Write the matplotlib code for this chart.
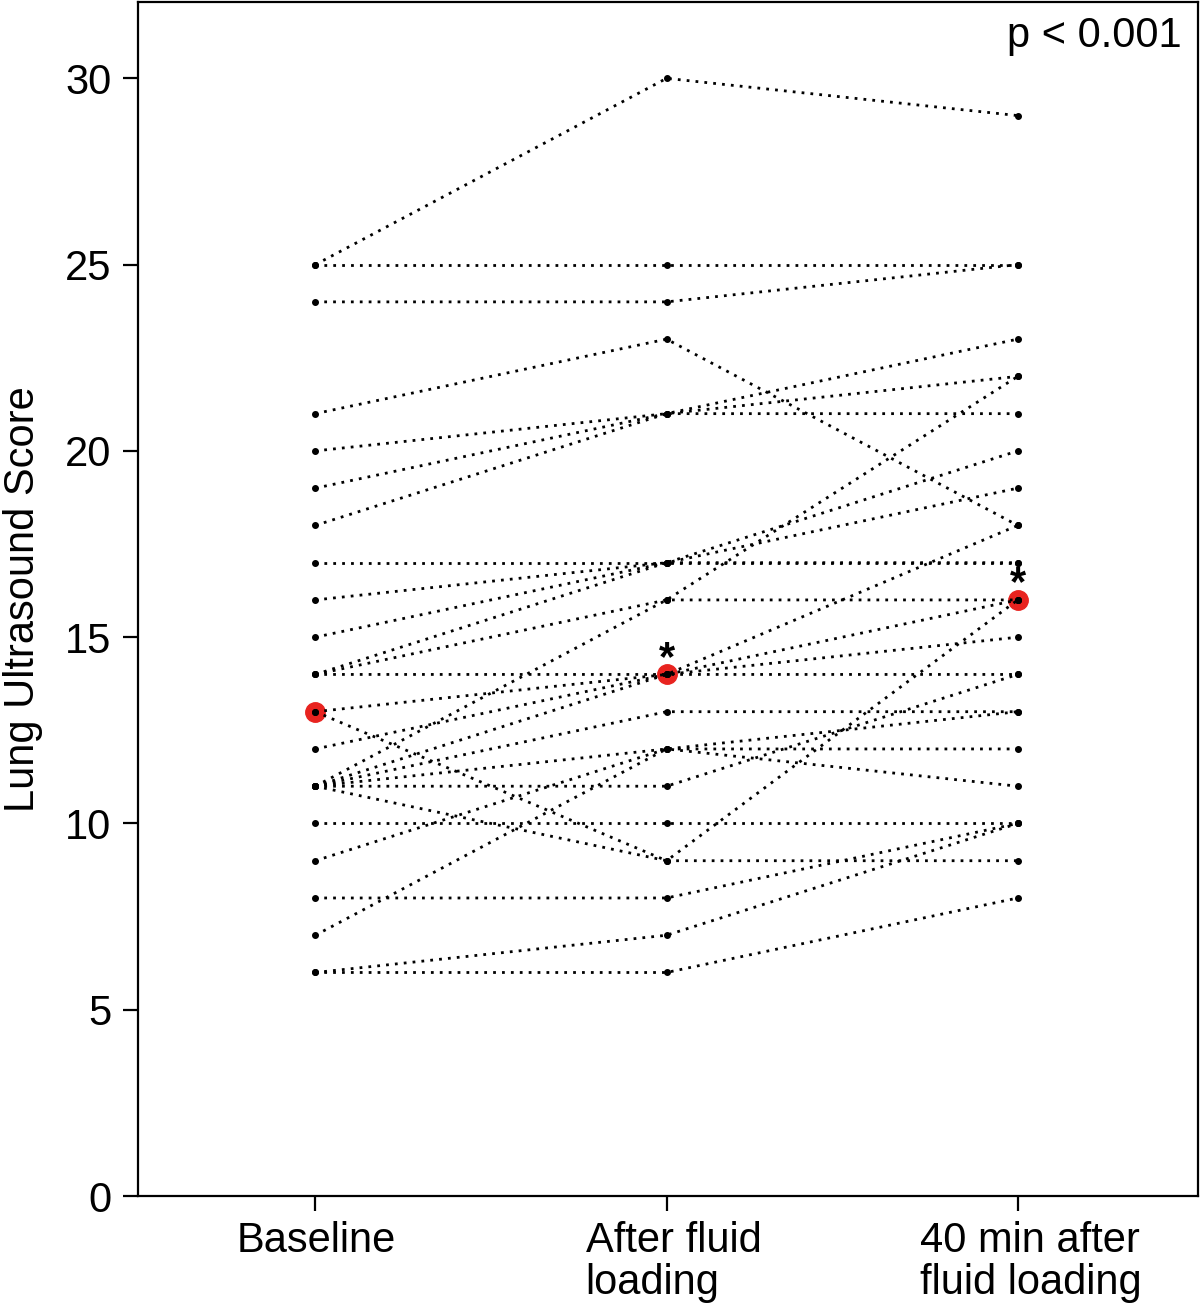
import matplotlib
matplotlib.use("Agg")
import matplotlib.pyplot as plt

plt.rcParams['font.family'] = ['Liberation Sans', 'DejaVu Sans']

# Time points
timepoints = ["Baseline", "After fluid\nloading", "40 min after\nfluid loading"]

# Per-patient lung ultrasound scores
baseline = [25, 25, 24, 21, 20, 19, 18, 17, 16, 15, 14, 14, 11, 14,
            13, 12, 11, 11, 11, 9, 7, 11, 10, 13, 11, 8, 6, 6]
after_loading = [30, 25, 24, 23, 21, 21, 21, 17, 17, 17, 17, 16, 16, 14,
                 14, 14, 14, 13, 12, 12, 12, 11, 10, 9, 9, 8, 7, 6]
after_40min = [29, 25, 25, 18, 21, 23, 22, 17, 20, 19, 17, 16, 22, 18,
               16, 15, 14, 13, 12, 11, 13, 14, 10, 9, 16, 10, 10, 8]

# Medians (red markers)
medians = [13, 14, 16]
significant = [False, True, True]

yticks = [0, 5, 10, 15, 20, 25, 30]

fig = plt.figure(figsize=(12, 13.07), dpi=100)
ax = fig.add_axes([0.115, 0.0849, 0.883, 0.9136])

x = [0, 1, 2]
red = "#e8231f"
ax.plot(x, medians, linestyle="none", marker="o", markersize=14,
        markerfacecolor=red, markeredgecolor=red, zorder=1)

for b, a, m in zip(baseline, after_loading, after_40min):
    ax.plot(x, [b, a, m], color="black", linewidth=2.0,
            linestyle=(0, (1, 2.2)), dash_capstyle="butt",
            marker="o", markersize=4.0, markerfacecolor="black",
            markeredgecolor="black", zorder=2)

for xi, med, sig in zip(x, medians, significant):
    if sig:
        ax.text(xi, med - 0.12, "*", ha="center", va="bottom", fontsize=30,
                fontweight="bold")

ax.text(0.985, 0.988, "p < 0.001", transform=ax.transAxes, ha="right",
        va="top", fontsize=30)

ax.set_xlim(-0.505, 2.512)
ax.set_ylim(0, 32.05)
# major ticks carry the tick marks, minor ticks (slightly offset) carry labels
ax.set_xticks(x)
ax.set_xticklabels([])
label_pos = [0.002, 1.02, 2.037]
ax.set_xticks(label_pos, minor=True)
ax.set_xticklabels(timepoints, minor=True, fontsize=30, linespacing=1.05,
                   multialignment="left")
ax.tick_params(axis="x", which="minor", length=0, pad=18)
ax.set_yticks(yticks)
ax.set_yticklabels([str(t) for t in yticks], fontsize=30)
ax.tick_params(axis="both", which="major", direction="out", length=11,
               width=1.6, colors="black")
ax.tick_params(axis="y", pad=8)
ax.set_ylabel("Lung Ultrasound Score", fontsize=30, labelpad=16)
for sp in ax.spines.values():
    sp.set_linewidth(1.6)

fig.savefig("out.png", dpi=100)
